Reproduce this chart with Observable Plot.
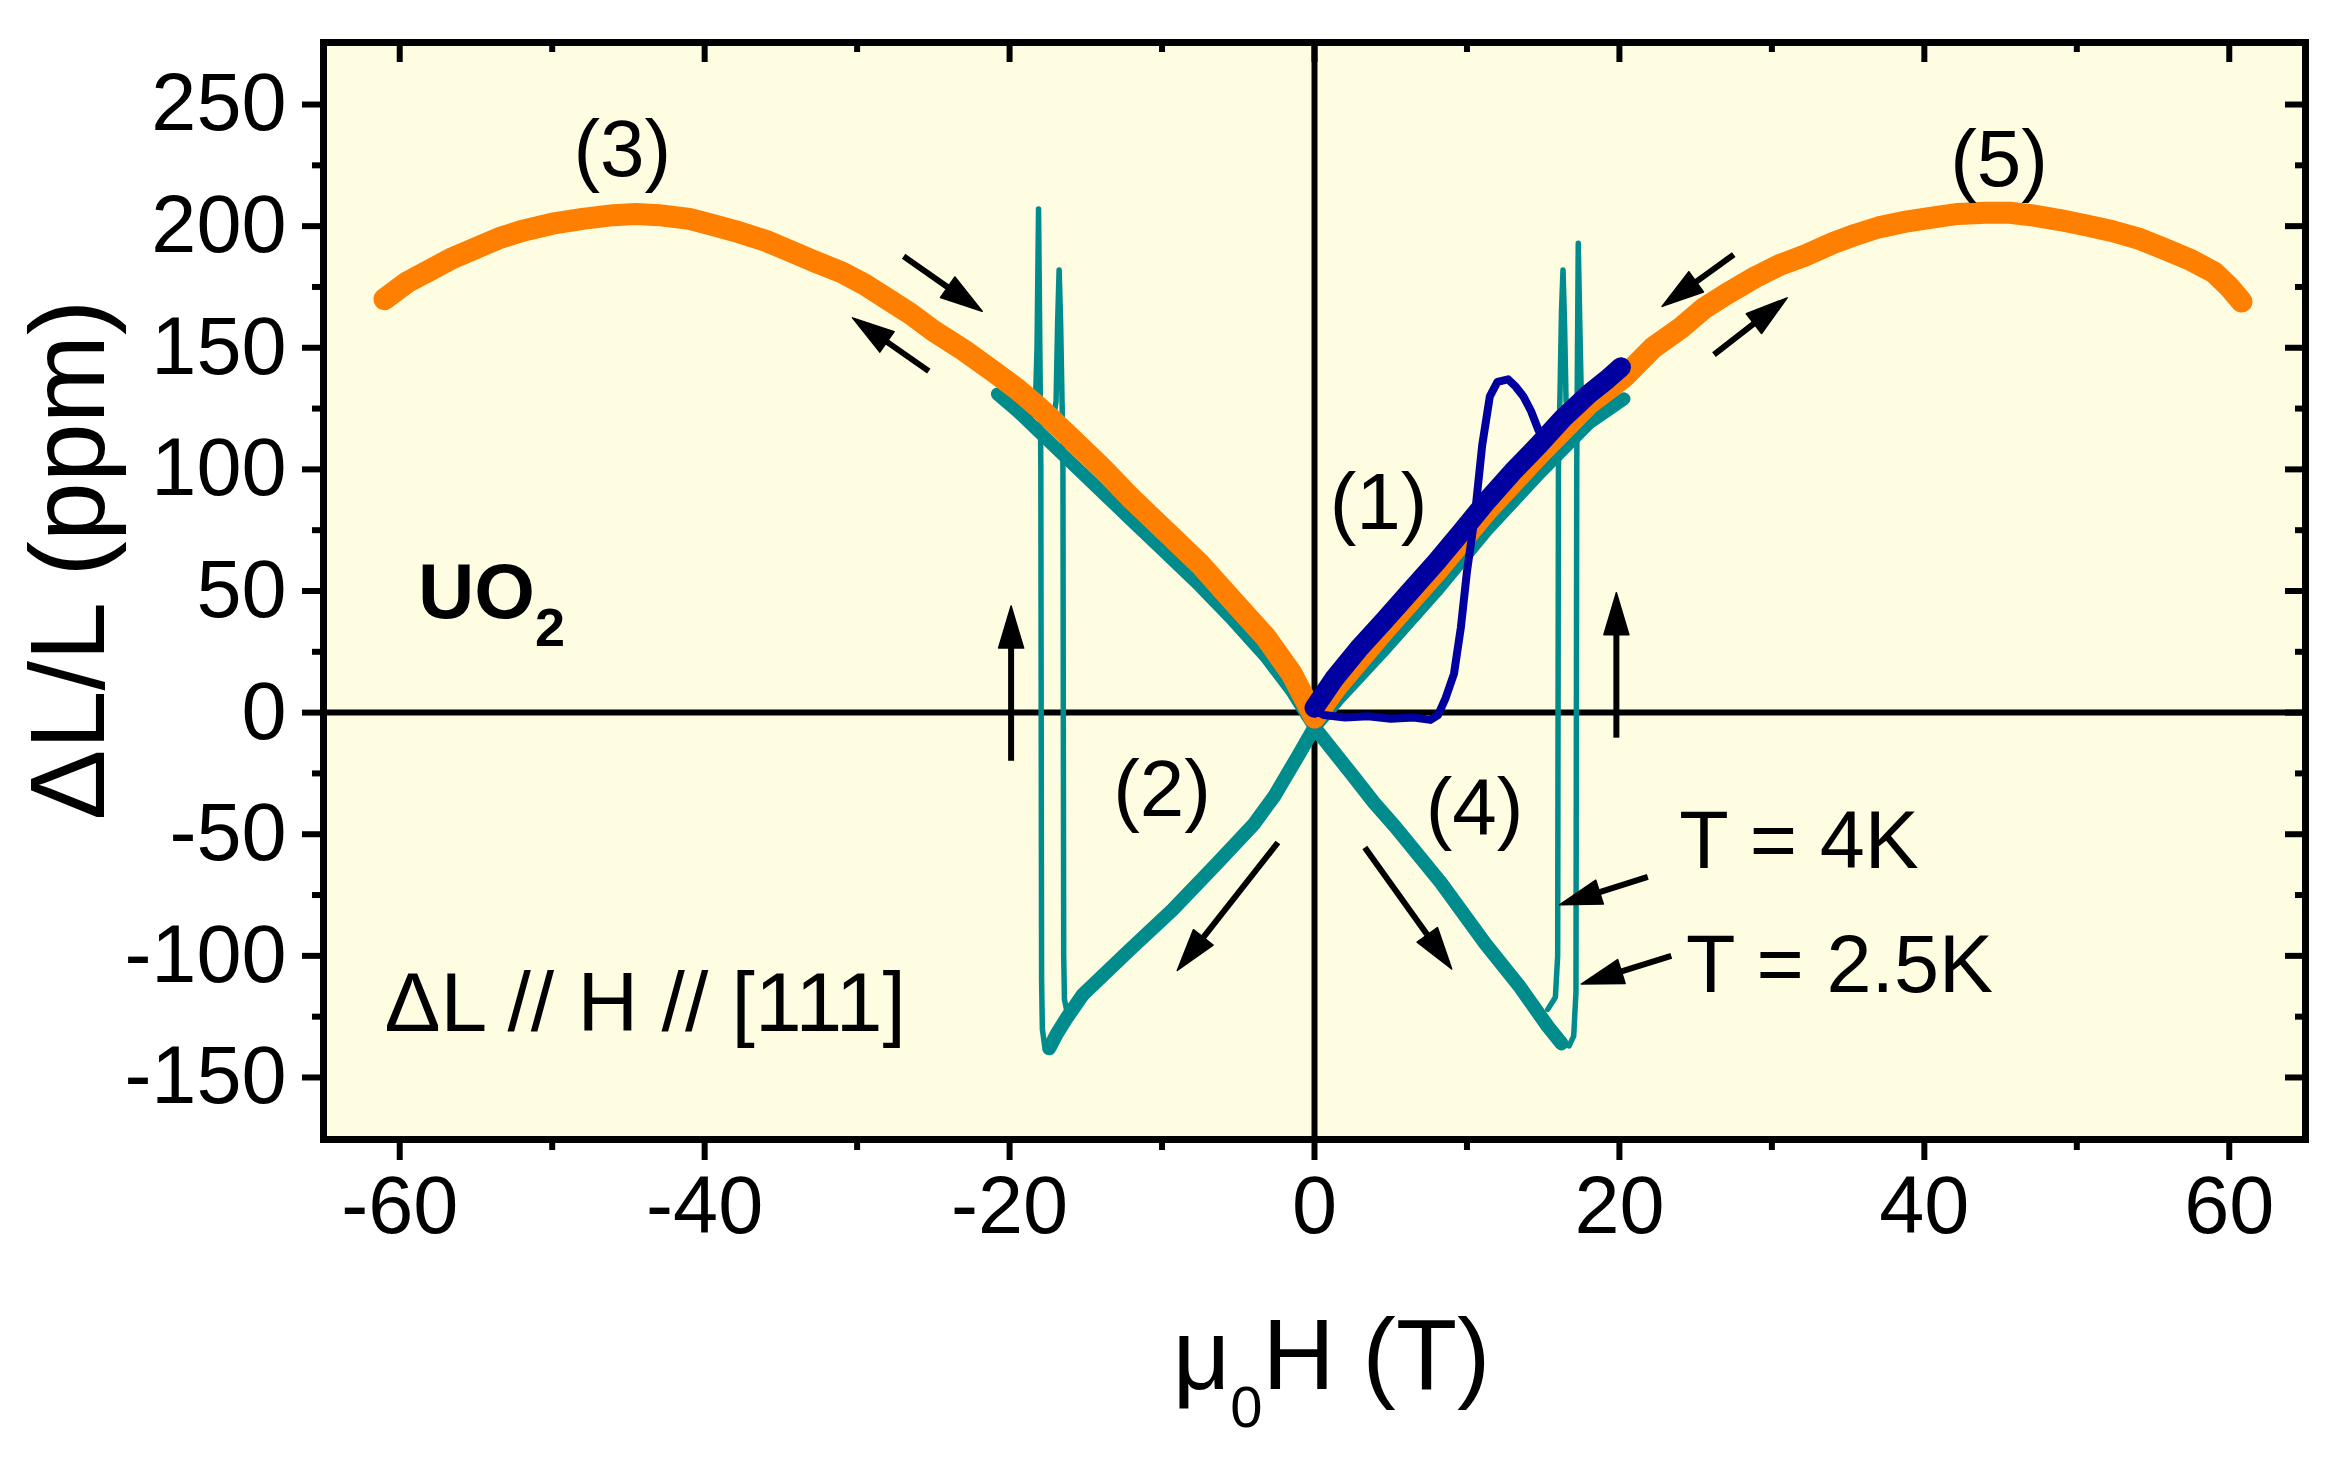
<!DOCTYPE html>
<html>
<head>
<meta charset="utf-8">
<script src="https://cdn.jsdelivr.net/npm/d3@7"></script>
<script src="https://cdn.jsdelivr.net/npm/@observablehq/plot@0.6"></script>
<style>
  html, body { margin: 0; padding: 0; background: #ffffff; }
  svg { display: block; }
</style>
</head>
<body>
<div id="chart"></div>
<script>
// ---------------- data ----------------
const xMajor = [-60, -40, -20, 0, 20, 40, 60];
const xMinor = [-50, -30, -10, 10, 30, 50];
const yMajor = [-150, -100, -50, 0, 50, 100, 150, 200, 250];
const yMinor = [-125, -75, -25, 25, 75, 125, 175, 225];

// orange: pulses (3) and (5), [mu0H (T), dL/L (ppm)]
const orangeCurve = [
  [-61.0,170],[-59.5,177],[-58,182],[-56.5,187],[-55,191],[-53.5,195],[-52,198],[-50,201],
  [-48,203],[-46,204.5],[-44.5,205],[-43,204.5],[-41,203],[-39.5,200.5],[-38,198],[-36,194],
  [-34.5,190],[-33,186],[-31,181],[-29.5,176],[-28,170],[-26.5,164],[-25,157],[-23,149],
  [-21,140],[-19.5,133],[-18,125],[-16,113],[-14,101],[-12,88],[-10,76],[-7.5,61],[-5.5,47],
  [-3.2,31],[-1.5,16],[0,-2],[1.5,11],[4.6,34],[8,58],[11.3,83],[14.7,106],[18,127],[20.3,138],
  [22.2,150],[24,158],[25.5,166],[27,172],[28.9,179],[30.5,184],[32.2,188],[34,193],[35.5,196.5],
  [37,199.5],[38.9,202],[40.5,203.5],[42.2,205],[44,205.5],[45.6,205.5],[47,204.5],[48.9,202.5],
  [50.5,200.5],[52.3,198],[54,195],[55.6,191],[57.5,186],[59,181],[60,175],[60.8,169]
];

// dark blue: repeated 0 -> 20 T sweeps (thick band) and virgin curve (1)
const blueBand = [
  [0,2],[1.3,14],[3,27],[4.6,38],[6.3,50],[8,62],[9.6,74],[11.3,87],[13,99],[14.7,110],
  [16.3,121],[18,131],[19.2,137],[20.1,142]
];
const blueVirgin = [
  [0,1],[0.6,-1],[2,-2],[3.5,-1.5],[5,-2.5],[6.5,-2],[7.6,-3],[8.1,-1],[8.6,6],[9.15,16],
  [9.6,35],[10.0,58],[10.5,80],[11.0,110],[11.5,130],[12.0,136],[12.7,137],[13.2,134],
  [13.7,130],[14.2,124],[14.7,116]
];

// teal: T = 4K and T = 2.5K, sweeps to +-20 T
const tealDownNeg = [
  [0,-6],[-1.1,-18],[-2.6,-34],[-4,-46],[-6.4,-62],[-9.3,-81],[-12.2,-98],[-15.2,-116],
  [-16.3,-126],[-16.9,-132],[-17.4,-138]
];
const tealDownPos = [
  [0,-6],[1.0,-14],[2.4,-25],[3.9,-37],[5.3,-47],[8.3,-70],[11.2,-95],[13.5,-113],
  [15.3,-129],[16.2,-136]
];
const tealUpNeg = [
  [-20.8,131],[-19.5,124],[-18,115],[-16,103],[-14,91],[-12,79],[-10,67],[-7.5,52],
  [-5.5,39],[-3.2,23],[-1.5,9],[0,-6]
];
const tealUpPos = [
  [0,-6],[1.5,5],[4.6,26],[8,50],[11.3,75],[14.7,98],[18,119],[20.3,129]
];
const teal4KNeg = [
  [-16.2,-124],[-16.4,-118],[-16.45,-100],[-16.5,100],[-16.55,125],[-16.65,160],[-16.75,182],
  [-16.85,160],[-16.95,128],[-17.2,118]
];
const teal25KNeg = [
  [-17.4,-138],[-17.7,-137],[-17.85,-130],[-17.9,-110],[-17.95,100],[-18.0,140],[-18.1,207],
  [-18.2,150],[-18.3,128],[-18.6,122]
];
const teal4KPos = [
  [15.3,-122],[15.8,-117],[15.95,-100],[16.0,100],[16.1,130],[16.2,165],[16.3,182],
  [16.4,160],[16.5,128],[16.8,120]
];
const teal25KPos = [
  [16.2,-136],[16.7,-137],[17.0,-133],[17.15,-115],[17.2,100],[17.25,150],[17.3,193],
  [17.4,160],[17.5,130],[17.8,124]
];

// annotations (in data units)
const curveLabels = [
  {label: "(3)", h: -45.4, dl: 231},
  {label: "(5)", h: 44.9, dl: 227},
  {label: "(1)", h: 4.2, dl: 86},
  {label: "(2)", h: -10.0, dl: -32},
  {label: "(4)", h: 10.5, dl: -39.5}
];
const tempLabels = [
  {label: "T = 4K", h: 23.93, dl: -63.7},
  {label: "T = 2.5K", h: 24.37, dl: -115}
];
const geometryLabel = [{label: "ΔL // H // [111]", h: -61.0, dl: -131}];
const sampleLabel = [{label: "UO2", h: -58.8, dl: 39}];
const arrowList = [
  {x1: -26.95, y1: 187.6, x2: -21.8, y2: 165},
  {x1: -25.3, y1: 140.4, x2: -30.3, y2: 162.3},
  {x1: 27.5, y1: 188.3, x2: 22.8, y2: 167},
  {x1: 26.2, y1: 147.2, x2: 31.0, y2: 170.5},
  {x1: -19.9, y1: -19.8, x2: -19.9, y2: 43.8},
  {x1: 19.8, y1: -10.3, x2: 19.8, y2: 49.3},
  {x1: -2.4, y1: -53.4, x2: -9.0, y2: -106},
  {x1: 3.3, y1: -55.5, x2: 9.0, y2: -105.4},
  {x1: 21.86, y1: -67.5, x2: 16.07, y2: -79},
  {x1: 23.4, y1: -100, x2: 17.5, y2: -111.6}
];

// ---------------- layout & style ----------------
const W = 2342, H = 1467;
const ML = 323, MR = 37, MT = 42, MB = 328;
const FW = W - ML - MR, FH = H - MT - MB;
const xDomain = [-65, 65], yDomain = [-175.5, 275.5];
const ORANGE = "#FF8000", BLUE = "#0000A0", TEAL = "#008C8C", BG = "#FFFDE1";
const FONT = "'Liberation Sans', Arial, Helvetica, sans-serif";

const rows = pts => pts.map(([h, dl]) => ({h, dl}));

// arrow geometry through Plot's own scales
const sx = Plot.scale({x: {domain: xDomain, range: [ML, W - MR]}});
const sy = Plot.scale({y: {domain: yDomain, range: [H - MB, MT]}});
const HEAD_L = 42, HEAD_W = 12.5;
const shafts = [], heads = [];
arrowList.forEach((a, i) => {
  const X1 = sx.apply(a.x1), Y1 = sy.apply(a.y1), X2 = sx.apply(a.x2), Y2 = sy.apply(a.y2);
  const len = Math.hypot(X2 - X1, Y2 - Y1);
  const ux = (X2 - X1) / len, uy = (Y2 - Y1) / len;
  const bx = X2 - ux * HEAD_L, by = Y2 - uy * HEAD_L;
  const nx = -uy, ny = ux;
  shafts.push({x1: a.x1, y1: a.y1, x2: sx.invert(bx + ux * 4), y2: sy.invert(by + uy * 4)});
  [[X2, Y2], [bx + nx * HEAD_W, by + ny * HEAD_W], [bx - nx * HEAD_W, by - ny * HEAD_W], [X2, Y2]]
    .forEach(([px, py]) => heads.push({id: i, h: sx.invert(px), dl: sy.invert(py)}));
});

const fmt = d => String(d);

const chart = Plot.plot({
  width: W, height: H,
  marginLeft: ML, marginRight: MR, marginTop: MT, marginBottom: MB,
  x: {domain: xDomain, label: null},
  y: {domain: yDomain, label: null},
  style: {fontFamily: FONT, background: "#ffffff", color: "black", overflow: "visible"},
  marks: [
    Plot.frame({fill: BG, stroke: null}),
    Plot.ruleX([0], {stroke: "black", strokeWidth: 6}),
    Plot.ruleY([0], {stroke: "black", strokeWidth: 6}),

    // teal curves
    Plot.line(rows(tealUpNeg), {x: "h", y: "dl", stroke: TEAL, strokeWidth: 13}),
    Plot.line(rows(tealUpPos), {x: "h", y: "dl", stroke: TEAL, strokeWidth: 13}),
    Plot.line(rows(tealDownNeg), {x: "h", y: "dl", stroke: TEAL, strokeWidth: 14}),
    Plot.line(rows(tealDownPos), {x: "h", y: "dl", stroke: TEAL, strokeWidth: 14}),
    Plot.line(rows(teal4KNeg), {x: "h", y: "dl", stroke: TEAL, strokeWidth: 5.5}),
    Plot.line(rows(teal25KNeg), {x: "h", y: "dl", stroke: TEAL, strokeWidth: 5.5}),
    Plot.line(rows(teal4KPos), {x: "h", y: "dl", stroke: TEAL, strokeWidth: 5.5}),
    Plot.line(rows(teal25KPos), {x: "h", y: "dl", stroke: TEAL, strokeWidth: 5.5}),

    // orange
    Plot.line(rows(orangeCurve), {x: "h", y: "dl", stroke: ORANGE, strokeWidth: 22}),

    // blue
    Plot.line(rows(blueVirgin), {x: "h", y: "dl", stroke: BLUE, strokeWidth: 8}),
    Plot.line(rows(blueBand), {x: "h", y: "dl", stroke: BLUE, strokeWidth: 20}),

    // arrows
    Plot.link(shafts, {x1: "x1", y1: "y1", x2: "x2", y2: "y2", stroke: "black", strokeWidth: 6}),
    Plot.line(heads, {x: "h", y: "dl", z: "id", fill: "black", stroke: "black", strokeWidth: 1.5}),

    // text annotations
    Plot.text(curveLabels, {x: "h", y: "dl", text: "label", fontSize: 80, textAnchor: "middle", lineAnchor: "middle", fill: "black"}),
    Plot.text(tempLabels, {x: "h", y: "dl", text: "label", fontSize: 81, textAnchor: "start", lineAnchor: "bottom", fill: "black"}),
    Plot.text(geometryLabel, {x: "h", y: "dl", text: "label", fontSize: 84, textAnchor: "start", lineAnchor: "bottom", fill: "black"}),
    Plot.text(sampleLabel, {x: "h", y: "dl", text: "label", fontSize: 78, fontWeight: "bold", textAnchor: "start", lineAnchor: "bottom", fill: "black"}),

    // axes
    Plot.axisX(xMajor, {anchor: "bottom", tickSize: 21, tickPadding: 15, fontSize: 81, tickFormat: fmt, strokeWidth: 6, label: null}),
    Plot.axisX(xMinor, {anchor: "bottom", tickSize: 11, tickFormat: () => "", strokeWidth: 6, label: null}),
    Plot.axisY(yMajor, {anchor: "left", tickSize: 21, tickPadding: 16, fontSize: 81, tickFormat: fmt, strokeWidth: 6, label: null}),
    Plot.axisY(yMinor, {anchor: "left", tickSize: 11, tickFormat: () => "", strokeWidth: 6, label: null}),
    Plot.ruleX(xMajor, {insetBottom: FH - 20, stroke: "black", strokeWidth: 6}),
    Plot.ruleX(xMinor, {insetBottom: FH - 10, stroke: "black", strokeWidth: 6}),
    Plot.ruleY(yMajor, {insetLeft: FW - 20, stroke: "black", strokeWidth: 6}),
    Plot.ruleY(yMinor, {insetLeft: FW - 10, stroke: "black", strokeWidth: 6}),
    Plot.frame({stroke: "black", strokeWidth: 7}),

    // axis titles
    Plot.text(["ΔL/L (ppm)"], {frameAnchor: "left", text: d => d, rotate: -90, fontSize: 106, textAnchor: "middle", lineAnchor: "bottom", dx: -220, dy: -31, fill: "black"}),
    Plot.text(["μ0H (T)"], {frameAnchor: "bottom", text: d => d, fontSize: 100, textAnchor: "middle", lineAnchor: "bottom", dx: 17, dy: 249, fill: "black"})
  ]
});

// subscripts
chart.querySelectorAll("text").forEach(t => {
  if (t.textContent === "μ0H (T)") {
    t.innerHTML = 'μ<tspan dy="38" font-size="58">0</tspan><tspan dy="-38">H (T)</tspan>';
  } else if (t.textContent === "UO2") {
    t.innerHTML = 'UO<tspan dy="28" font-size="54">2</tspan>';
  }
});

document.getElementById("chart").appendChild(chart);
</script>
</body>
</html>
